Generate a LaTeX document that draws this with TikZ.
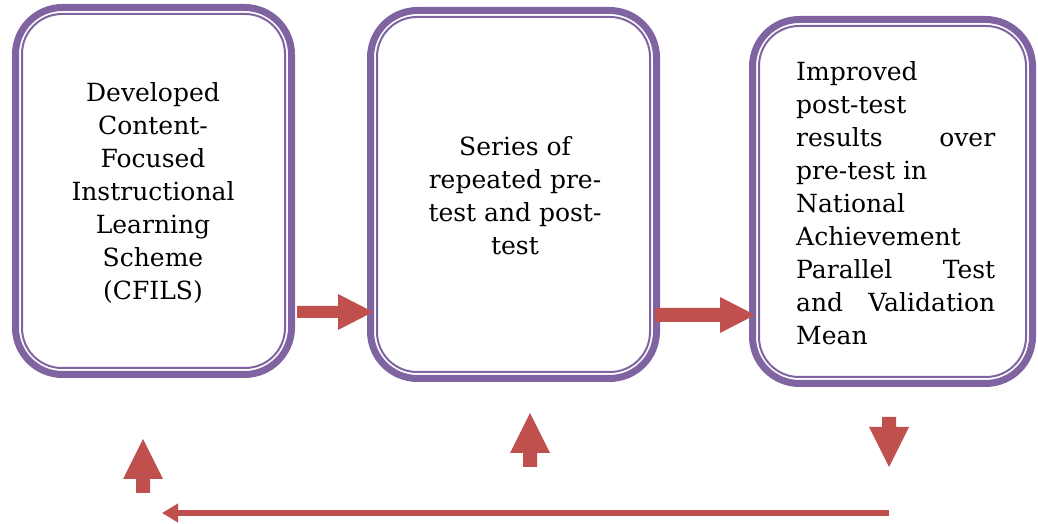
\documentclass[tikz,border=0pt]{standalone}
\usepackage{fontspec}
\setmainfont{DejaVu Serif}
\usetikzlibrary{arrows.meta}
\definecolor{boxpurple}{HTML}{8064A2}
\definecolor{arrowred}{HTML}{C0504D}
\tikzset{
  outerbox/.style={draw=boxpurple, line width=7pt, rounded corners=47pt, inner sep=0pt, outer sep=0pt, fill=white},
  innerline/.style={draw=boxpurple, line width=2pt, rounded corners=40pt},
  blockarrow/.style={fill=arrowred, draw=none},
  boxtext/.style={font=\fontsize{25}{33}\selectfont, inner sep=0pt},
  longarrow/.style={draw=arrowred, line width=6pt, -{Triangle[length=16pt,width=18pt]}}
}
\newcommand{\innerframe}[1]{%
  \draw[innerline] ([shift={(6.5pt,6.5pt)}]#1.south west) rectangle ([shift={(-6.5pt,-6.5pt)}]#1.north east);}
\begin{document}
\begin{tikzpicture}[x=1pt,y=1pt]
\useasboundingbox (0,0) rectangle (1038,524);
% boxes
\node[outerbox, minimum width=276pt, minimum height=367pt] (b1) at (153.5,333) {};
\node[outerbox, minimum width=286pt, minimum height=368pt] (b2) at (513.5,329.5) {};
\node[outerbox, minimum width=280pt, minimum height=364pt] (b3) at (892.5,322.5) {};
\innerframe{b1}
\innerframe{b2}
\innerframe{b3}
% texts
\node[boxtext, align=center] (t1) at (153,331) {Developed\\Content-\\Focused\\Instructional\\Learning\\Scheme\\(CFILS)};
\node[boxtext, align=center] (t2) at (515,328) {Series of\\repeated pre-\\test and post-\\test};
\node[boxtext, align=left, anchor=west] (t3) at (796,321) {Improved\\post-test\\\makebox[199pt]{results\hfill over}\\pre-test in\\National\\Achievement\\\makebox[199pt]{Parallel\hfill Test}\\\makebox[199pt]{and\hfill Validation}\\Mean};
% right block arrows
\fill[blockarrow] (297,206) -- (338,206) -- (338,194) -- (373,212) -- (338,230) -- (338,218) -- (297,218) -- cycle;
\fill[blockarrow] (655,202) -- (720,202) -- (720,191) -- (755,209) -- (720,227) -- (720,216) -- (655,216) -- cycle;
% up arrows
\fill[blockarrow] (136,31) -- (136,45) -- (123,45) -- (143,85) -- (163,45) -- (150,45) -- (150,31) -- cycle;
\fill[blockarrow] (523,57) -- (523,71) -- (510,71) -- (530,111) -- (550,71) -- (537,71) -- (537,57) -- cycle;
% down arrow
\fill[blockarrow] (882,107) -- (882,97) -- (869,97) -- (889,57) -- (909,97) -- (896,97) -- (896,107) -- cycle;
% long return arrow
\coordinate (ls) at (889,11);
\coordinate (le) at (162,11);
\draw[longarrow] (ls) -- (le);
\end{tikzpicture}
\end{document}
